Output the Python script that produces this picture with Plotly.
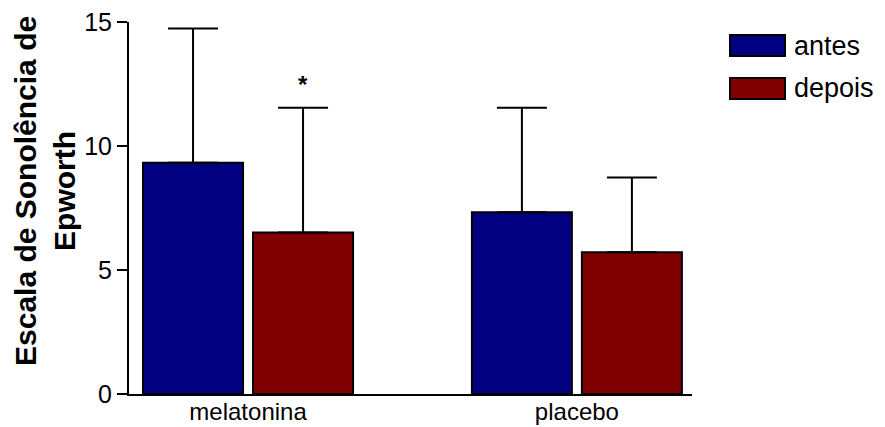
import plotly.graph_objects as go

categories = ["melatonina", "placebo"]
series_names = ["antes", "depois"]
antes = [9.32, 7.33]
antes_err = [5.42, 4.21]
depois = [6.51, 5.72]
depois_err = [5.03, 3.01]
y_ticks = [0, 5, 10, 15]
colors = ["#000080", "#800000"]

W, H = 885, 427
L, R, T, B = 129, 193, 22, 33
pw, ph = W - L - R, H - T - B

def px_x(p):
    return (p - L) / pw

def px_y(p):
    return (H - B - p) / ph

xpos = list(range(len(categories)))
fig = go.Figure()
for name, vals, errs, col in [("antes", antes, antes_err, colors[0]),
                              ("depois", depois, depois_err, colors[1])]:
    fig.add_trace(go.Bar(
        x=xpos, y=vals, name=name,
        marker=dict(color=col, line=dict(color="black", width=2)),
        error_y=dict(type="data", array=errs, symmetric=False,
                     arrayminus=[0] * len(errs), color="black",
                     thickness=2, width=25),
    ))

font = "Liberation Sans, Arial, sans-serif"
fig.update_layout(
    width=W, height=H,
    margin=dict(l=L, r=R, t=T, b=B),
    paper_bgcolor="white", plot_bgcolor="white",
    barmode="group", bargap=0.331, bargroupgap=0.0909,
    showlegend=False,
    font=dict(family=font, color="black"),
    xaxis=dict(range=[-0.362, 1.35], tickvals=xpos, ticktext=categories,
               showline=True, linecolor="black", linewidth=2,
               ticks="", showgrid=False, zeroline=False, automargin=False,
               ticklabelstandoff=-5,
               tickfont=dict(size=24, family=font)),
    yaxis=dict(range=[0, 15], tickvals=y_ticks, showline=True,
               linecolor="black", linewidth=2, ticks="outside",
               ticklen=10, tickwidth=2, tickcolor="black",
               showgrid=False, zeroline=False, automargin=False,
               tickfont=dict(size=25, family=font)),
)

# y-axis title
fig.add_annotation(
    xref="paper", yref="paper", x=px_x(45), y=px_y(191),
    text="<b>Escala de Sonolência de<br>Epworth</b>",
    textangle=-90, showarrow=False, xanchor="center", yanchor="middle",
    font=dict(size=30, family=font, color="black"),
)

# significance marker
fig.add_annotation(x=0.167, y=12.5, text="<b>*</b>", showarrow=False,
                   xanchor="center", yanchor="middle",
                   font=dict(size=24, family=font, color="black"))

# legend
for i, (name, col) in enumerate(zip(series_names, colors)):
    top = 35 + i * 43
    fig.add_shape(type="rect", xref="paper", yref="paper",
                  x0=px_x(730), x1=px_x(785), y0=px_y(top + 21), y1=px_y(top),
                  fillcolor=col, line=dict(color="black", width=2))
    fig.add_annotation(xref="paper", yref="paper", x=px_x(792),
                       y=px_y(top + 10.5), text=name, showarrow=False,
                       xanchor="left", yanchor="middle",
                       font=dict(size=27, family=font, color="black"))

fig.write_html("out.html")
